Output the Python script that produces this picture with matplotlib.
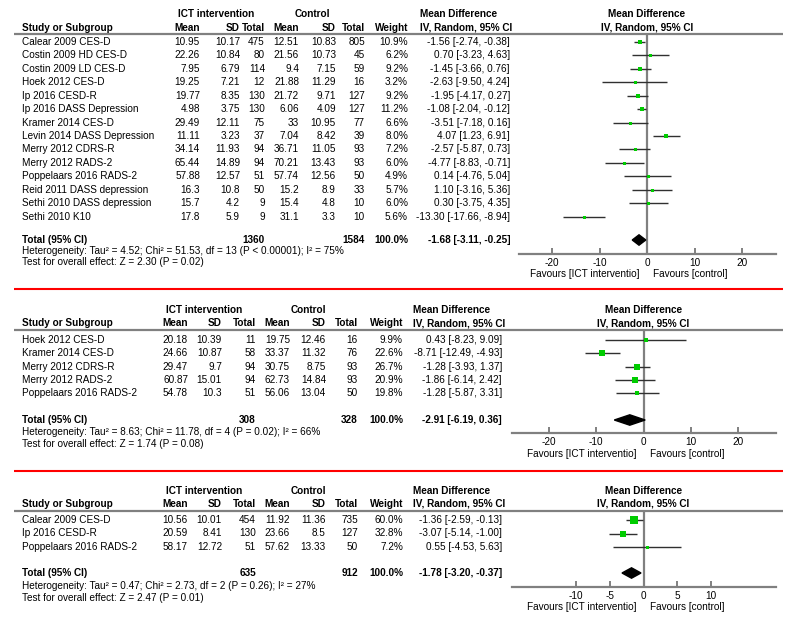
import matplotlib
matplotlib.use("Agg")
import matplotlib.pyplot as plt
from matplotlib.patches import Polygon

plt.rcParams['font.family'] = ['Liberation Sans', 'DejaVu Sans']
FS = 7.2

# ---------------- data: panel 1 ----------------
p1_studies = ["Calear 2009 CES-D", "Costin 2009 HD CES-D", "Costin 2009 LD CES-D", "Hoek 2012 CES-D",
              "Ip 2016 CESD-R", "Ip 2016 DASS Depression", "Kramer 2014 CES-D", "Levin 2014 DASS Depression",
              "Merry 2012 CDRS-R", "Merry 2012 RADS-2", "Poppelaars 2016 RADS-2", "Reid 2011 DASS depression",
              "Sethi 2010 DASS depression", "Sethi 2010 K10"]
p1_mean_e = [10.95, 22.26, 7.95, 19.25, 19.77, 4.98, 29.49, 11.11, 34.14, 65.44, 57.88, 16.3, 15.7, 17.8]
p1_sd_e = [10.17, 10.84, 6.79, 7.21, 8.35, 3.75, 12.11, 3.23, 11.93, 14.89, 12.57, 10.8, 4.2, 5.9]
p1_n_e = [475, 80, 114, 12, 130, 130, 75, 37, 94, 94, 51, 50, 9, 9]
p1_mean_c = [12.51, 21.56, 9.4, 21.88, 21.72, 6.06, 33, 7.04, 36.71, 70.21, 57.74, 15.2, 15.4, 31.1]
p1_sd_c = [10.83, 10.73, 7.15, 11.29, 9.71, 4.09, 10.95, 8.42, 11.05, 13.43, 12.56, 8.9, 4.8, 3.3]
p1_n_c = [805, 45, 59, 16, 127, 127, 77, 39, 93, 93, 50, 33, 10, 10]
p1_weight = [10.9, 6.2, 9.2, 3.2, 9.2, 11.2, 6.6, 8.0, 7.2, 6.0, 4.9, 5.7, 6.0, 5.6]
p1_md = [-1.56, 0.70, -1.45, -2.63, -1.95, -1.08, -3.51, 4.07, -2.57, -4.77, 0.14, 1.10, 0.30, -13.30]
p1_lo = [-2.74, -3.23, -3.66, -9.50, -4.17, -2.04, -7.18, 1.23, -5.87, -8.83, -4.76, -3.16, -3.75, -17.66]
p1_hi = [-0.38, 4.63, 0.76, 4.24, 0.27, -0.12, 0.16, 6.91, 0.73, -0.71, 5.04, 5.36, 4.35, -8.94]
p1_total = [1360, 1584, -1.68, -3.11, -0.25]
p1_het = "Heterogeneity: Tau² = 4.52; Chi² = 51.53, df = 13 (P < 0.00001); I² = 75%"
p1_test = "Test for overall effect: Z = 2.30 (P = 0.02)"
p1_ticks = [-20, -10, 0, 10, 20]

# ---------------- data: panel 2 ----------------
p2_studies = ["Hoek 2012 CES-D", "Kramer 2014 CES-D", "Merry 2012 CDRS-R", "Merry 2012 RADS-2",
              "Poppelaars 2016 RADS-2"]
p2_mean_e = [20.18, 24.66, 29.47, 60.87, 54.78]
p2_sd_e = [10.39, 10.87, 9.7, 15.01, 10.3]
p2_n_e = [11, 58, 94, 94, 51]
p2_mean_c = [19.75, 33.37, 30.75, 62.73, 56.06]
p2_sd_c = [12.46, 11.32, 8.75, 14.84, 13.04]
p2_n_c = [16, 76, 93, 93, 50]
p2_weight = [9.9, 22.6, 26.7, 20.9, 19.8]
p2_md = [0.43, -8.71, -1.28, -1.86, -1.28]
p2_lo = [-8.23, -12.49, -3.93, -6.14, -5.87]
p2_hi = [9.09, -4.93, 1.37, 2.42, 3.31]
p2_total = [308, 328, -2.91, -6.19, 0.36]
p2_het = "Heterogeneity: Tau² = 8.63; Chi² = 11.78, df = 4 (P = 0.02); I² = 66%"
p2_test = "Test for overall effect: Z = 1.74 (P = 0.08)"
p2_ticks = [-20, -10, 0, 10, 20]

# ---------------- data: panel 3 ----------------
p3_studies = ["Calear 2009 CES-D", "Ip 2016 CESD-R", "Poppelaars 2016 RADS-2"]
p3_mean_e = [10.56, 20.59, 58.17]
p3_sd_e = [10.01, 8.41, 12.72]
p3_n_e = [454, 130, 51]
p3_mean_c = [11.92, 23.66, 57.62]
p3_sd_c = [11.36, 8.5, 13.33]
p3_n_c = [735, 127, 50]
p3_weight = [60.0, 32.8, 7.2]
p3_md = [-1.36, -3.07, 0.55]
p3_lo = [-2.59, -5.14, -4.53]
p3_hi = [-0.13, -1.00, 5.63]
p3_total = [635, 912, -1.78, -3.20, -0.37]
p3_het = "Heterogeneity: Tau² = 0.47; Chi² = 2.73, df = 2 (P = 0.26); I² = 27%"
p3_test = "Test for overall effect: Z = 2.47 (P = 0.01)"
p3_ticks = [-10, -5, 0, 5, 10]

col_headers = ["Mean", "SD", "Total", "Mean", "SD", "Total", "Weight"]

W, H = 800, 622
fig = plt.figure(figsize=(W / 100, H / 100), dpi=100)
bg = fig.add_axes([0, 0, 1, 1])
bg.set_xlim(0, W)
bg.set_ylim(H, 0)
bg.axis("off")

GRAY = "#808080"
GREEN = "#00cc00"
CI = "#303030"


def fmt(v):
    return f"{v:g}"


def txt(x, y, s, ha="left", bold=False):
    bg.text(x, y, s, ha=ha, va="center", fontsize=FS,
            fontweight="bold" if bold else "normal", color="black")


def draw_panel(d, L):
    n = len(d["studies"])
    # group headers
    txt(L["ict"], L["y_grp"], "ICT intervention", ha="center", bold=True)
    txt(L["ctrl"], L["y_grp"], "Control", ha="center", bold=True)
    txt(L["mdh"], L["y_grp"], "Mean Difference", ha="center", bold=True)
    txt(L["mdh"] + 7, L["y_hdr"], "IV, Random, 95% CI", ha="center", bold=True)
    txt(L["zero"], L["y_grp"], "Mean Difference", ha="center", bold=True)
    txt(L["zero"], L["y_hdr"], "IV, Random, 95% CI", ha="center", bold=True)
    txt(22, L["y_hdr"], "Study or Subgroup", bold=True)
    for h, cx in zip(col_headers, L["cols"]):
        txt(cx, L["y_hdr"], h, ha="right", bold=True)
    bg.plot([14, 783], [L["y_line"], L["y_line"]], color=GRAY, lw=1.6, solid_capstyle="butt")

    # rows
    for i in range(n):
        y = L["y_row0"] + i * L["dy"]
        txt(22, y, d["studies"][i])
        vals = [fmt(d["mean_e"][i]), fmt(d["sd_e"][i]), str(d["n_e"][i]),
                fmt(d["mean_c"][i]), fmt(d["sd_c"][i]), str(d["n_c"][i]),
                f"{d['weight'][i]:.1f}%"]
        for v, cx in zip(vals, L["cols"]):
            txt(cx, y, v, ha="right")
        txt(L["mdx"], y, f"{d['md'][i]:.2f} [{d['lo'][i]:.2f}, {d['hi'][i]:.2f}]", ha="right")

    ne_t, nc_t, m_t, lo_t, hi_t = d["total"]
    txt(22, L["y_total"], "Total (95% CI)", bold=True)
    txt(L["cols"][2], L["y_total"], str(ne_t), ha="right", bold=True)
    txt(L["cols"][5], L["y_total"], str(nc_t), ha="right", bold=True)
    txt(L["cols"][6], L["y_total"], "100.0%", ha="right", bold=True)
    txt(L["mdx"], L["y_total"], f"{m_t:.2f} [{lo_t:.2f}, {hi_t:.2f}]", ha="right", bold=True)
    txt(22, L["y_het"], d["het"])
    txt(22, L["y_test"], d["test"])

    # forest axes
    x0, x1 = L["ax_l"], L["ax_r"]
    ytop, ybot = L["y_line"], L["y_axis"]
    ax = fig.add_axes([x0 / W, 1 - ybot / H, (x1 - x0) / W, (ybot - ytop) / H])
    ax.patch.set_alpha(0)
    ax.set_xlim((x0 - L["zero"]) / L["ppu"], (x1 - L["zero"]) / L["ppu"])
    ax.set_ylim((ybot - L["y_row0"]) / L["dy"], (ytop - L["y_row0"]) / L["dy"])
    for s in ["top", "left", "right"]:
        ax.spines[s].set_visible(False)
    ax.spines["bottom"].set_color(GRAY)
    ax.spines["bottom"].set_linewidth(1.6)
    ax.set_yticks([])
    ax.set_xticks(d["ticks"])
    ax.set_xticklabels([str(t) for t in d["ticks"]])
    ax.tick_params(axis="x", direction="in", length=4, width=1.4, color=GRAY,
                   labelsize=FS, pad=3)
    ax.axvline(0, color=GRAY, lw=1.6, zorder=1)
    rows = list(range(n))
    ax.hlines(rows, d["lo"], d["hi"], color=CI, lw=1.0, zorder=2)
    for i in range(n):
        side_px = max(3.0, 1.1 * d["weight"][i] ** 0.5)
        ax.plot(d["md"][i], i, marker="s", ms=side_px * 0.72, color=GREEN,
                mec=GREEN, mew=0, ls="none", zorder=3)
    yt = (L["y_total"] - L["y_row0"]) / L["dy"]
    hh = 5.2 / L["dy"]
    ax.add_patch(Polygon([[lo_t, yt], [m_t, yt - hh], [hi_t, yt], [m_t, yt + hh]],
                         closed=True, color="black", zorder=3))
    txt(L["zero"] - 7, L["y_fav"], "Favours [ICT interventio]", ha="right")
    txt(L["zero"] + 6, L["y_fav"], "Favours [control]", ha="left")
    if L.get("y_red"):
        bg.plot([14, 783], [L["y_red"], L["y_red"]], color="#ff0000", lw=1.5, solid_capstyle="butt")


def pack(studies, me, se, ne, mc, sc, nc, w, md, lo, hi, total, het, test, ticks):
    return dict(studies=studies, mean_e=me, sd_e=se, n_e=ne, mean_c=mc, sd_c=sc, n_c=nc,
                weight=w, md=md, lo=lo, hi=hi, total=total, het=het, test=test, ticks=ticks)


L1 = dict(y_grp=14, y_hdr=28, y_line=33.5, y_row0=42, dy=13.43, y_total=240, y_het=251,
          y_test=262, y_axis=254, y_fav=274, y_red=289,
          cols=[200, 240, 265, 299, 336, 365, 408], mdx=510, ict=216, ctrl=312, mdh=459,
          zero=647, ppu=4.75, ax_l=519, ax_r=776)
L2 = dict(y_grp=310, y_hdr=323, y_line=329.5, y_row0=340, dy=13.33, y_total=420, y_het=432,
          y_test=444, y_axis=433, y_fav=454, y_red=471,
          cols=[188, 222, 256, 290, 326, 358, 403], mdx=502, ict=204, ctrl=308, mdh=452,
          zero=643.5, ppu=4.72, ax_l=512, ax_r=776)
L3 = dict(y_grp=491, y_hdr=504, y_line=511, y_row0=520, dy=13.5, y_total=573, y_het=586,
          y_test=598, y_axis=586.5, y_fav=607, y_red=None,
          cols=[188, 222, 256, 290, 326, 358, 403], mdx=502, ict=204, ctrl=308, mdh=452,
          zero=643.5, ppu=6.72, ax_l=512, ax_r=776)

draw_panel(pack(p1_studies, p1_mean_e, p1_sd_e, p1_n_e, p1_mean_c, p1_sd_c, p1_n_c, p1_weight,
                p1_md, p1_lo, p1_hi, p1_total, p1_het, p1_test, p1_ticks), L1)
draw_panel(pack(p2_studies, p2_mean_e, p2_sd_e, p2_n_e, p2_mean_c, p2_sd_c, p2_n_c, p2_weight,
                p2_md, p2_lo, p2_hi, p2_total, p2_het, p2_test, p2_ticks), L2)
draw_panel(pack(p3_studies, p3_mean_e, p3_sd_e, p3_n_e, p3_mean_c, p3_sd_c, p3_n_c, p3_weight,
                p3_md, p3_lo, p3_hi, p3_total, p3_het, p3_test, p3_ticks), L3)

fig.savefig("out.png", dpi=100)
